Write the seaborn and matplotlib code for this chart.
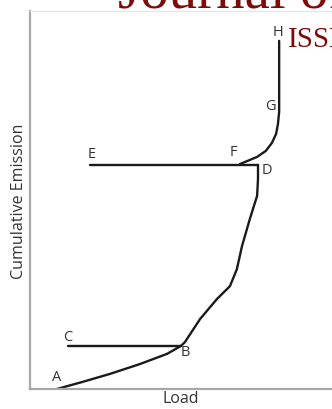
import numpy as np
import pandas as pd
import seaborn as sns
import matplotlib.pyplot as plt

# schematic curve segments (load, cumulative emission)
ab_load = [8.9, 17.5, 26.5, 36.4, 45.4, 50.0]
ab_emis = [0.0, 1.9, 4.0, 6.6, 9.3, 11.4]

bd_load = [50.0, 51.3, 56.3, 61.9, 66.2, 68.5, 70.2, 72.8, 75.2, 75.5, 75.5]
bd_emis = [11.4, 12.4, 18.5, 23.8, 27.2, 31.7, 37.8, 45.0, 51.1, 55.6, 59.3]

cb_load = [12.6, 50.0]
cb_emis = [11.4, 11.4]

ed_load = [19.9, 75.5]
ed_emis = [59.3, 59.3]

fh_load = [69.5, 75.2, 78.1, 80.1, 81.5, 82.1, 82.5, 82.5, 82.5]
fh_emis = [59.5, 61.4, 63.0, 65.1, 67.5, 70.1, 73.3, 82.0, 92.1]

point_names = ["A", "B", "C", "D", "E", "F", "G", "H"]
point_load = [8.9, 51.3, 12.6, 78.5, 20.5, 67.5, 79.5, 82.1]
point_emis = [3.2, 9.8, 14.0, 58.2, 62.4, 62.7, 74.9, 94.7]

sns.set_style("white")
plt.rcParams["font.family"] = ["Open Sans", "DejaVu Sans"]

fig = plt.figure(figsize=(3.32, 4.10), dpi=100)
ax = fig.add_axes([30 / 332, 20 / 410, 1 - 30 / 332, 378 / 410])

segments = [(ab_load, ab_emis), (bd_load, bd_emis), (cb_load, cb_emis),
            (ed_load, ed_emis), (fh_load, fh_emis)]
for xs, ys in segments:
    seg = pd.DataFrame({"Load": xs, "Emission": ys})
    sns.lineplot(data=seg, x="Load", y="Emission", sort=False, estimator=None,
                 ax=ax, color="#1a1a1a", linewidth=1.7)

for name, x, y in zip(point_names, point_load, point_emis):
    ax.text(x, y, name, ha="center", va="center", fontsize=10.5, color="#333333")

ax.set_xlim(0, 100)
ax.set_ylim(0, 100)
ax.set_xticks([])
ax.set_yticks([])
ax.set_xlabel("Load", fontsize=11.5, color="#333333", labelpad=1)
ax.set_ylabel("Cumulative Emission", fontsize=11.5, color="#333333", labelpad=2)

for side in ["left", "bottom"]:
    ax.spines[side].set_color("#a8a8a8")
    ax.spines[side].set_linewidth(1.6)
ax.spines["top"].set_color("#e6e6e6")
ax.spines["top"].set_linewidth(1.0)
ax.spines["right"].set_visible(False)

# journal header bleeding into the crop
fig.text(118 / 332, 1 - 8 / 410, "Journal of", fontsize=41, color="#7f0a0a",
         family="Liberation Serif", va="baseline", ha="left")
fig.text(288 / 332, 1 - 47 / 410, "ISSN", fontsize=21, color="#7f0a0a",
         family="Liberation Serif", va="baseline", ha="left")

fig.savefig("out.png", dpi=100)
